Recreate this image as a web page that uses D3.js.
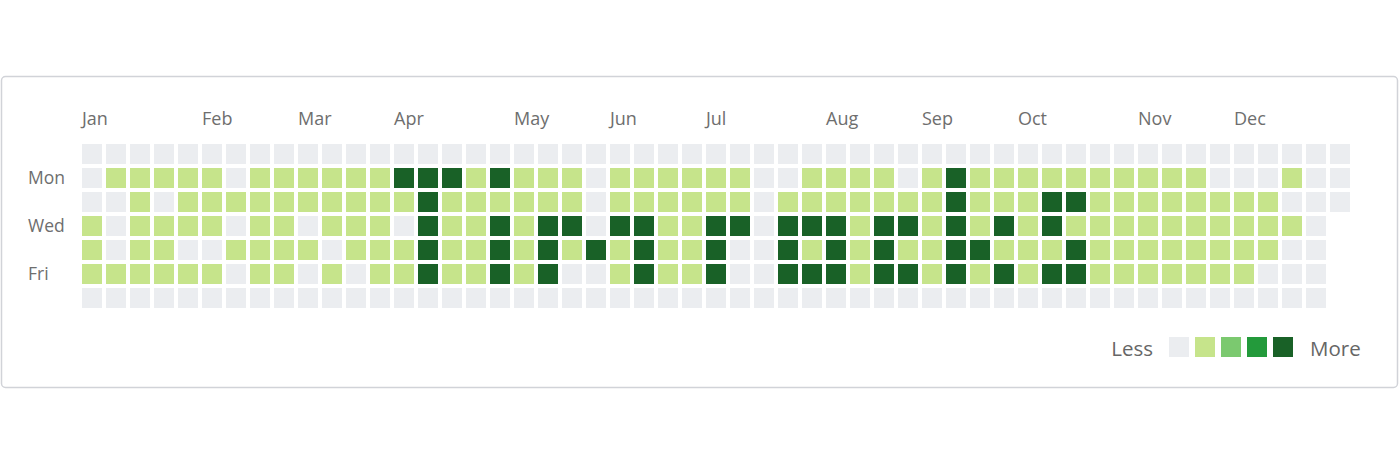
<!DOCTYPE html>
<html>
<head>
<meta charset="utf-8">
<script src="https://cdn.jsdelivr.net/npm/d3@7"></script>
<style>
  html, body { margin: 0; padding: 0; background: #fff; }
  svg { display: block; font-family: "Open Sans", "Noto Sans", sans-serif; }
</style>
</head>
<body>
<svg id="chart" width="1400" height="467"></svg>
<script>
// ---- Data (activity level 0-4 per week column, one array per weekday row) ----
const year = 2023;
const weekdayNames = ["Sun", "Mon", "Tue", "Wed", "Thu", "Fri", "Sat"];
const weekdayLabels = ["", "Mon", "", "Wed", "", "Fri", ""];
const monthNames = ["Jan","Feb","Mar","Apr","May","Jun","Jul","Aug","Sep","Oct","Nov","Dec"];
const legendLevels = [0, 1, 2, 3, 4];
const levelColors = ["#ebedf0", "#c6e48b", "#7bc96f", "#239a3b", "#196127"];

const sun = [0,0,0,0,0,0,0,0,0,0, 0,0,0,0,0,0,0,0,0,0, 0,0,0,0,0,0,0,0,0,0, 0,0,0,0,0,0,0,0,0,0, 0,0,0,0,0,0,0,0,0,0, 0,0,0];
const mon = [0,1,1,1,1,1,0,1,1,1, 1,1,1,4,4,4,1,4,1,1, 1,0,1,1,1,1,1,1,0,0, 1,1,1,1,0,1,4,1,1,1, 1,1,1,1,1,1,1,0,0,0, 1,0,0];
const tue = [0,0,1,0,1,1,1,1,1,1, 1,1,1,1,4,1,1,1,1,1, 1,0,1,1,1,1,1,1,0,1, 1,1,1,1,1,1,4,1,1,1, 4,4,1,1,1,1,1,1,1,1, 0,0,0];
const wed = [1,0,1,1,1,1,0,1,1,0, 1,1,1,0,4,1,1,4,1,4, 4,0,4,4,1,1,4,4,0,4, 4,4,1,4,4,1,4,1,4,1, 4,1,1,1,1,1,1,1,1,1, 1,0];
const thu = [1,0,1,1,0,0,1,1,1,1, 0,1,1,1,4,1,1,4,1,4, 1,4,1,4,1,1,4,0,0,4, 1,4,1,4,1,1,4,4,1,1, 1,4,1,1,1,1,1,1,1,1, 0,0];
const fri = [1,1,1,1,1,1,0,1,1,0, 1,0,1,1,4,1,1,4,1,4, 0,0,1,4,1,1,4,0,0,4, 4,4,1,4,4,1,4,1,4,1, 4,4,1,1,1,1,1,1,1,0, 0,0];
const sat = [0,0,0,0,0,0,0,0,0,0, 0,0,0,0,0,0,0,0,0,0, 0,0,0,0,0,0,0,0,0,0, 0,0,0,0,0,0,0,0,0,0, 0,0,0,0,0,0,0,0,0,0, 0,0];

const rows = [sun, mon, tue, wed, thu, fri, sat];

// ---- Build cells ----
const cells = [];
rows.forEach((vals, day) => vals.forEach((v, week) => cells.push({ week, day, level: v })));
const nWeeks = d3.max(rows, r => r.length);

const svg = d3.select("#chart");

// Card
svg.append("rect")
  .attr("x", 1.5).attr("y", 76.5)
  .attr("width", 1396).attr("height", 311)
  .attr("rx", 4).attr("ry", 4)
  .attr("fill", "#fff")
  .attr("stroke", "#d1d3d8")
  .attr("stroke-width", 1.5);

// Scales
const x = d3.scaleBand()
  .domain(d3.range(nWeeks))
  .range([82, 1350])
  .paddingInner(4 / 24)
  .paddingOuter(0);

const y = d3.scaleBand()
  .domain(d3.range(7))
  .range([144, 308])
  .paddingInner(4 / 24)
  .paddingOuter(0);

const color = d3.scaleOrdinal().domain(legendLevels).range(levelColors);

// Cells
svg.append("g")
  .selectAll("rect")
  .data(cells)
  .join("rect")
  .attr("x", d => x(d.week))
  .attr("y", d => y(d.day))
  .attr("width", x.bandwidth())
  .attr("height", y.bandwidth())
  .attr("fill", d => color(d.level));

// Month labels: first Sunday of each month
const start = new Date(year, 0, 1);
svg.append("g")
  .selectAll("text")
  .data(monthNames)
  .join("text")
  .attr("x", (m, i) => {
    const firstSun = d3.timeSunday.ceil(new Date(year, i, 1));
    return x(d3.timeSunday.count(start, firstSun));
  })
  .attr("y", 125)
  .attr("fill", "#6e6e6e")
  .attr("font-size", 18)
  .text(m => m);

// Weekday labels
svg.append("g")
  .selectAll("text")
  .data(weekdayLabels.map((t, i) => ({ t, i })).filter(d => d.t))
  .join("text")
  .attr("x", 28)
  .attr("y", d => y(d.i) + y.bandwidth() / 2 + 6)
  .attr("fill", "#6e6e6e")
  .attr("font-size", 17.5)
  .text(d => d.t);

// Legend
const legendX = d3.scaleBand()
  .domain(legendLevels)
  .range([1169, 1293])
  .paddingInner(6 / 26)
  .paddingOuter(0);

const lg = svg.append("g");
lg.selectAll("rect")
  .data(legendLevels)
  .join("rect")
  .attr("x", d => legendX(d))
  .attr("y", 337)
  .attr("width", legendX.bandwidth())
  .attr("height", 20)
  .attr("fill", d => color(d));

lg.append("text")
  .attr("x", 1153).attr("y", 356)
  .attr("text-anchor", "end")
  .attr("fill", "#666")
  .attr("font-size", 20.5)
  .text("Less");

lg.append("text")
  .attr("x", 1310).attr("y", 356)
  .attr("fill", "#666")
  .attr("font-size", 20.5)
  .text("More");
</script>
</body>
</html>
